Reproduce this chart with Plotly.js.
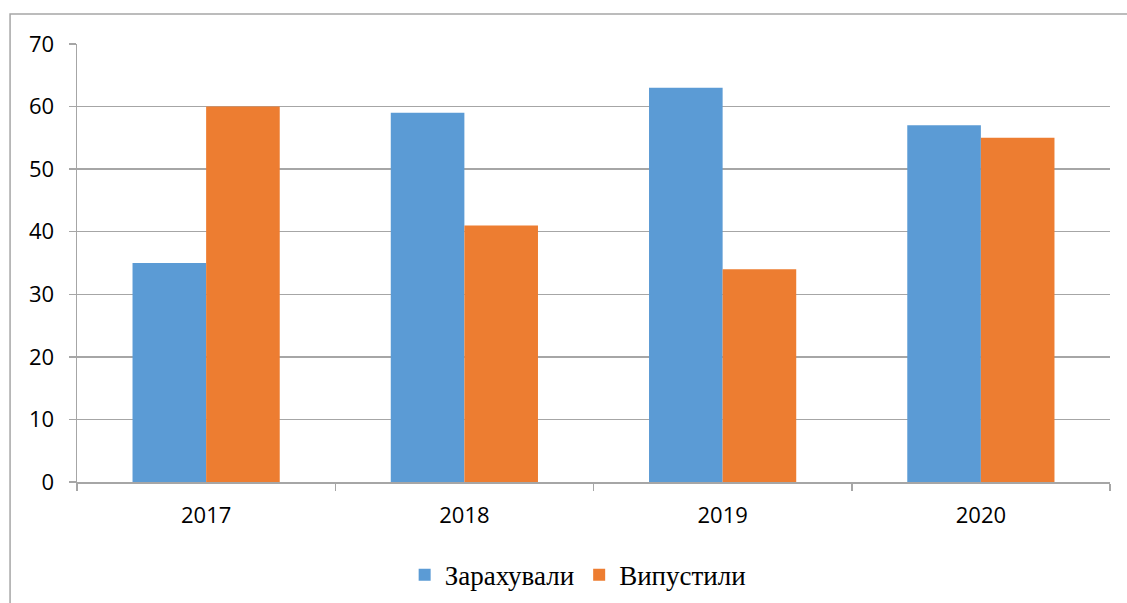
<!DOCTYPE html>
<html><head><meta charset="utf-8">
<script src="https://cdn.plot.ly/plotly-3.0.1.min.js"></script>
<style>body{margin:0;background:#fff}#c{width:1127px;height:603px}</style>
</head><body><div id="c"></div>
<script>
const years = ['2017','2018','2019','2020'];
const enrolled = [35, 59, 63, 57];
const graduated = [60, 41, 34, 55];
const seriesNames = ['Зарахували', 'Випустили'];
const yTicks = [0,10,20,30,40,50,60,70];

const traces = [
  {type:'bar', x:years, y:enrolled, name:seriesNames[0], marker:{color:'#5B9BD5'}},
  {type:'bar', x:years, y:graduated, name:seriesNames[1], marker:{color:'#ED7D31'}}
];
const layout = {
  width:1127, height:603,
  margin:{l:77, r:17, t:44, b:121},
  paper_bgcolor:'#fff', plot_bgcolor:'#fff',
  barmode:'group', bargap:0.43, bargroupgap:0,
  font:{family:'Open Sans, Noto Sans, sans-serif', size:22, color:'#000'},
  xaxis:{type:'category', range:[-0.5,3.5], showline:true, linecolor:'#a6a6a6', linewidth:1.5,
    ticks:'outside', tickson:'boundaries', ticklen:7, tickcolor:'#a6a6a6', tickwidth:1.5,
    showgrid:false, tickfont:{size:22}, ticklabelstandoff:13, automargin:false},
  yaxis:{range:[0,70], tickvals:yTicks, showline:true, linecolor:'#a6a6a6', linewidth:1.5,
    ticks:'outside', ticklen:7, tickcolor:'#a6a6a6', tickwidth:1.5,
    showgrid:true, gridcolor:'#a6a6a6', gridwidth:1.5, zeroline:false, tickfont:{size:22},
    ticklabelstandoff:10, automargin:false},
  showlegend:true,
  legend:{orientation:'h', xref:'container', yref:'container', x:0.513, xanchor:'center', y:0.046, yanchor:'middle',
    font:{family:'Liberation Serif, Times New Roman, serif', size:27, color:'#000'},
    itemwidth:30, traceorder:'normal'},
  shapes:[{type:'rect', xref:'paper', yref:'paper', x0:-0.0648, x1:1.2, y0:-0.6, y1:1.0685,
    line:{color:'#a6a6a6', width:1.5}, fillcolor:'rgba(0,0,0,0)', layer:'below'}]
};
Plotly.newPlot('c', traces, layout, {displayModeBar:false, staticPlot:true});
</script></body></html>
